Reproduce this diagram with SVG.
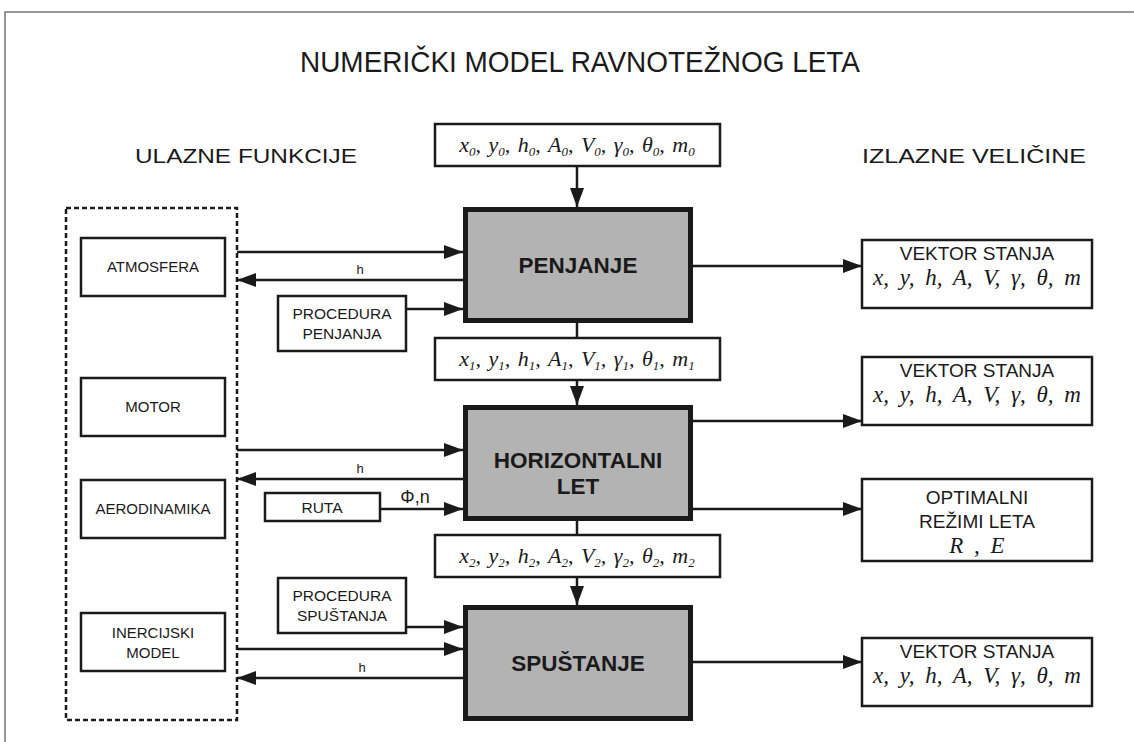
<svg xmlns="http://www.w3.org/2000/svg" width="1134" height="742" viewBox="0 0 1134 742">
<style>
.frame{fill:none;stroke:#777;stroke-width:1.5}
.box{fill:#fff;stroke:#1a1a1a;stroke-width:2.5}
.main{fill:#b3b3b3;stroke:#1a1a1a;stroke-width:5}
.dash{fill:none;stroke:#1a1a1a;stroke-width:2.5;stroke-dasharray:5 3}
.lbl{font-family:"Liberation Sans",Arial,sans-serif;fill:#1a1a1a;text-anchor:middle}
.sm{font-size:15px}
.md{font-size:15.5px}
.out{font-size:19px}
.ttl{font-size:21px}
.bold{font-size:22.5px;font-weight:bold}
.f{font-family:"Liberation Serif","Times New Roman",serif;font-style:italic;font-size:22px;fill:#1a1a1a;text-anchor:middle;word-spacing:2px}
.fo{font-family:"Liberation Serif","Times New Roman",serif;font-style:italic;font-size:23px;fill:#1a1a1a;text-anchor:middle;word-spacing:5px}
.sub{font-size:13px}
.conn line{stroke:#1a1a1a;stroke-width:2.5;fill:none}
</style>
<defs>
<marker id="ah" markerUnits="userSpaceOnUse" markerWidth="20" markerHeight="14" refX="19" refY="7" orient="auto">
<path d="M0,0 L19,7 L0,14 z" fill="#1a1a1a"/>
</marker>
</defs>
<rect width="1134" height="742" fill="#fff"/>
<polyline class="frame" points="5,742 5,12 1134,12"/>

<text class="lbl" x="580" y="72" font-size="30" textLength="560" lengthAdjust="spacingAndGlyphs">NUMERIČKI MODEL RAVNOTEŽNOG LETA</text>
<text class="lbl ttl" x="246" y="163" textLength="222" lengthAdjust="spacingAndGlyphs">ULAZNE FUNKCIJE</text>
<text class="lbl ttl" x="974" y="163" textLength="224" lengthAdjust="spacingAndGlyphs">IZLAZNE VELIČINE</text>

<g id="inputs">
<rect class="dash" x="66" y="208" width="171" height="512"/>
<g id="atmosfera"><rect class="box" x="81" y="238" width="144" height="58"/><text class="lbl sm" x="153" y="272">ATMOSFERA</text></g>
<g id="motor"><rect class="box" x="81" y="378" width="144" height="58"/><text class="lbl sm" x="153" y="412">MOTOR</text></g>
<g id="aerodinamika"><rect class="box" x="81" y="480" width="144" height="58"/><text class="lbl sm" x="153" y="514">AERODINAMIKA</text></g>
<g id="inercijski"><rect class="box" x="81" y="613" width="144" height="58"/><text class="lbl sm" x="153" y="638">INERCIJSKI</text><text class="lbl sm" x="153" y="658">MODEL</text></g>
</g>

<g id="proc-penjanja"><rect class="box" x="278" y="296" width="128" height="55"/><text class="lbl md" x="342" y="319">PROCEDURA</text><text class="lbl md" x="342" y="339">PENJANJA</text></g>
<g id="ruta"><rect class="box" x="265" y="493" width="115" height="28"/><text class="lbl md" x="322" y="513">RUTA</text></g>
<g id="proc-spustanja"><rect class="box" x="278" y="578" width="128" height="55"/><text class="lbl md" x="342" y="601">PROCEDURA</text><text class="lbl md" x="342" y="621">SPUŠTANJA</text></g>

<g id="init0"><rect class="box" x="435" y="124" width="285" height="42"/>
<text class="f" x="577" y="152">x<tspan dy="4" class="sub">0</tspan><tspan dy="-4">, y</tspan><tspan dy="4" class="sub">0</tspan><tspan dy="-4">, h</tspan><tspan dy="4" class="sub">0</tspan><tspan dy="-4">, A</tspan><tspan dy="4" class="sub">0</tspan><tspan dy="-4">, V</tspan><tspan dy="4" class="sub">0</tspan><tspan dy="-4">, γ</tspan><tspan dy="4" class="sub">0</tspan><tspan dy="-4">, θ</tspan><tspan dy="4" class="sub">0</tspan><tspan dy="-4">, m</tspan><tspan dy="4" class="sub">0</tspan></text></g>

<g id="penjanje"><rect class="main" x="465.5" y="209.5" width="225" height="111"/><text class="lbl bold" x="578" y="273">PENJANJE</text></g>

<g id="init1"><rect class="box" x="435" y="338" width="285" height="42"/>
<text class="f" x="577" y="366">x<tspan dy="4" class="sub">1</tspan><tspan dy="-4">, y</tspan><tspan dy="4" class="sub">1</tspan><tspan dy="-4">, h</tspan><tspan dy="4" class="sub">1</tspan><tspan dy="-4">, A</tspan><tspan dy="4" class="sub">1</tspan><tspan dy="-4">, V</tspan><tspan dy="4" class="sub">1</tspan><tspan dy="-4">, γ</tspan><tspan dy="4" class="sub">1</tspan><tspan dy="-4">, θ</tspan><tspan dy="4" class="sub">1</tspan><tspan dy="-4">, m</tspan><tspan dy="4" class="sub">1</tspan></text></g>

<g id="horizontalni"><rect class="main" x="465.5" y="407.5" width="225" height="111"/><text class="lbl bold" x="578" y="468">HORIZONTALNI</text><text class="lbl bold" x="578" y="494">LET</text></g>

<g id="init2"><rect class="box" x="435" y="535" width="285" height="42"/>
<text class="f" x="577" y="563">x<tspan dy="4" class="sub">2</tspan><tspan dy="-4">, y</tspan><tspan dy="4" class="sub">2</tspan><tspan dy="-4">, h</tspan><tspan dy="4" class="sub">2</tspan><tspan dy="-4">, A</tspan><tspan dy="4" class="sub">2</tspan><tspan dy="-4">, V</tspan><tspan dy="4" class="sub">2</tspan><tspan dy="-4">, γ</tspan><tspan dy="4" class="sub">2</tspan><tspan dy="-4">, θ</tspan><tspan dy="4" class="sub">2</tspan><tspan dy="-4">, m</tspan><tspan dy="4" class="sub">2</tspan></text></g>

<g id="spustanje"><rect class="main" x="465.5" y="607.5" width="225" height="111"/><text class="lbl bold" x="578" y="671">SPUŠTANJE</text></g>

<g id="out1"><rect class="box" x="862" y="240" width="230" height="68"/><text class="lbl out" x="977" y="260">VEKTOR STANJA</text><text class="fo" x="977" y="285">x, y, h, A, V, γ, θ, m</text></g>
<g id="out2"><rect class="box" x="862" y="357" width="230" height="68"/><text class="lbl out" x="977" y="377">VEKTOR STANJA</text><text class="fo" x="977" y="402">x, y, h, A, V, γ, θ, m</text></g>
<g id="out3"><rect class="box" x="862" y="479" width="230" height="82"/><text class="lbl out" x="977" y="504">OPTIMALNI</text><text class="lbl out" x="977" y="528">REŽIMI LETA</text><text class="fo" x="977" y="553">R , E</text></g>
<g id="out4"><rect class="box" x="862" y="638" width="230" height="68"/><text class="lbl out" x="977" y="658">VEKTOR STANJA</text><text class="fo" x="977" y="683">x, y, h, A, V, γ, θ, m</text></g>

<g id="connectors" class="conn">
<line x1="577" y1="166" x2="577" y2="207" marker-end="url(#ah)"/>
<line x1="577" y1="323" x2="577" y2="338"/>
<line x1="577" y1="380" x2="577" y2="405" marker-end="url(#ah)"/>
<line x1="577" y1="521" x2="577" y2="535"/>
<line x1="577" y1="577" x2="577" y2="605" marker-end="url(#ah)"/>

<line x1="237" y1="252" x2="463" y2="252" marker-end="url(#ah)"/>
<line x1="463" y1="280" x2="237" y2="280" marker-end="url(#ah)"/>
<line x1="406" y1="309" x2="463" y2="309" marker-end="url(#ah)"/>

<line x1="237" y1="450" x2="463" y2="450" marker-end="url(#ah)"/>
<line x1="463" y1="479" x2="237" y2="479" marker-end="url(#ah)"/>
<line x1="380" y1="509" x2="463" y2="509" marker-end="url(#ah)"/>

<line x1="406" y1="627" x2="463" y2="627" marker-end="url(#ah)"/>
<line x1="237" y1="649" x2="463" y2="649" marker-end="url(#ah)"/>
<line x1="463" y1="678" x2="237" y2="678" marker-end="url(#ah)"/>

<line x1="693" y1="266" x2="862" y2="266" marker-end="url(#ah)"/>
<line x1="693" y1="421" x2="862" y2="421" marker-end="url(#ah)"/>
<line x1="693" y1="509" x2="862" y2="509" marker-end="url(#ah)"/>
<line x1="693" y1="662" x2="862" y2="662" marker-end="url(#ah)"/>
</g>
<g id="conn-labels">
<text class="lbl" x="360" y="274" font-size="13">h</text>
<text class="lbl" x="360" y="473" font-size="13">h</text>
<text class="lbl" x="362" y="672" font-size="13">h</text>
<text class="lbl" x="415" y="503" font-size="18">Φ,n</text>
</g>
</svg>
